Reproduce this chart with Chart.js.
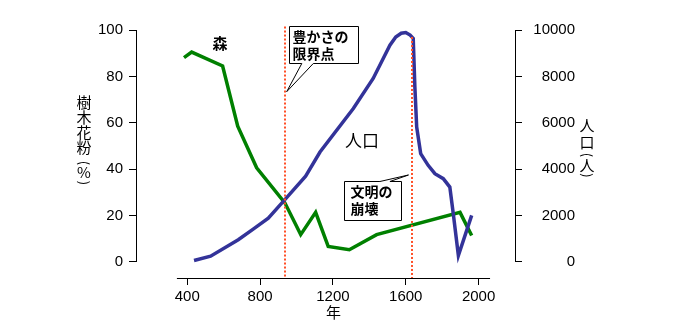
<!DOCTYPE html>
<html lang="ja">
<head>
<meta charset="UTF-8">
<title>森と人口</title>
<style>
  body { margin: 0; background: #fff; overflow: hidden; }
  .wrap { width: 700px; height: 330px; position: relative; }
</style>
</head>
<body>
<div class="wrap"><canvas id="chart"></canvas></div>
<script src="https://cdn.jsdelivr.net/npm/chart.js"></script>
<script>
// 樹木花粉 (%)
const forestYears  = [382, 424, 594, 677, 781, 936, 1023, 1105, 1174, 1290, 1440, 1898, 1962];
const forestPollen = [88.1, 90.5, 84.5, 58.5, 40.6, 25.5, 11.8, 21.4, 6.7, 5.3, 11.8, 21.4, 11.4];

// 人口 (人)
const popYears   = [437, 528, 680, 762, 845, 936, 1050, 1129, 1312, 1421, 1513, 1545, 1575, 1600, 1624, 1641,
                    1650, 1660, 1682, 1723, 1760, 1806, 1842, 1861, 1889, 1962];
const population = [65, 250, 960, 1420, 1890, 2690, 3700, 4740, 6615, 7910, 9348, 9700, 9860, 9890, 9780, 9637,
                    7547, 5820, 4672, 4167, 3808, 3592, 3230, 2081, 281, 2008];

const xTicks     = [400, 800, 1200, 1600, 2000];
const leftTicks  = [0, 20, 40, 60, 80, 100];
const rightTicks = [0, 2000, 4000, 6000, 8000, 10000];

// 豊かさの限界点 / 文明の崩壊
const markerYears = [936, 1635];
const markerTops  = [101.5, 97];

const tickFont = { family: "'Liberation Sans', Arial, sans-serif", size: 15 };
const jpFont = "'Noto Sans CJK JP', sans-serif";
const plain = v => String(v);

function align(p) {
    return Math.round(p - 0.5) + 0.5;
}

function callout(ctx, lines, box, base, tip, pad) {
    // box / base / tip already in pixels
    ctx.beginPath();
    ctx.moveTo(box.l, box.t);
    if (base.side === 'top') {
        ctx.lineTo(base.a, box.t);
        ctx.lineTo(tip.x, tip.y);
        ctx.lineTo(base.b, box.t);
    }
    ctx.lineTo(box.r, box.t);
    ctx.lineTo(box.r, box.b);
    if (base.side === 'bottom') {
        ctx.lineTo(base.b, box.b);
        ctx.lineTo(tip.x, tip.y);
        ctx.lineTo(base.a, box.b);
    }
    ctx.lineTo(box.l, box.b);
    ctx.closePath();
    ctx.fillStyle = '#fff';
    ctx.fill();
    ctx.strokeStyle = '#000';
    ctx.lineWidth = 1;
    ctx.stroke();

    ctx.fillStyle = '#000';
    ctx.font = 'bold 14px ' + jpFont;
    ctx.textAlign = 'left';
    ctx.textBaseline = 'middle';
    lines.forEach((t, i) => ctx.fillText(t, box.l + pad, box.t + 10 + i * 17));
}

const overlay = {
    id: 'overlay',
    afterDatasetsDraw(chart) {
        const ctx = chart.ctx;
        const x = chart.scales.x;
        const y = chart.scales.y;
        const y1 = chart.scales.y1;
        const area = chart.chartArea;
        const px = v => x.getPixelForValue(v);
        const py = v => y.getPixelForValue(v);

        ctx.save();

        // axis lines (detached, R style)
        ctx.strokeStyle = '#000';
        ctx.lineWidth = 1;
        ctx.beginPath();
        const lx = align(area.left);
        ctx.moveTo(lx, py(0));
        ctx.lineTo(lx, py(100));
        const rx = align(area.right);
        ctx.moveTo(rx, y1.getPixelForValue(0));
        ctx.lineTo(rx, y1.getPixelForValue(10000));
        const by = align(area.bottom);
        ctx.moveTo(px(343), by);
        ctx.lineTo(px(2063), by);
        ctx.stroke();

        // red dotted markers
        ctx.strokeStyle = '#ff5028';
        ctx.lineWidth = 2;
        ctx.setLineDash([2, 2]);
        markerYears.forEach((yr, i) => {
            const mx = Math.round(px(yr));
            ctx.beginPath();
            ctx.moveTo(mx, py(markerTops[i]));
            ctx.lineTo(mx, area.bottom);
            ctx.stroke();
        });
        ctx.setLineDash([]);

        // callouts
        callout(ctx, ['豊かさの', '限界点'],
            { l: align(px(964)), r: align(px(1338)), t: align(py(101.7)), b: align(py(85.6)) },
            { side: 'bottom', a: px(1029), b: px(1092) },
            { x: px(946), y: py(73.4) }, 3);
        callout(ctx, ['文明の', '崩壊'],
            { l: align(px(1266)), r: align(px(1578)), t: align(py(34.6)), b: align(py(18.1)) },
            { side: 'top', a: px(1458), b: px(1513) },
            { x: px(1615), y: py(37.5) }, 6);

        // series labels
        ctx.fillStyle = '#000';
        ctx.textAlign = 'center';
        ctx.textBaseline = 'middle';
        ctx.font = 'bold 15px ' + jpFont;
        ctx.fillText('森', px(580), py(94.4));
        ctx.font = '17px ' + jpFont;
        ctx.fillText('人口', px(1359), py(52.2));

        // axis titles
        ctx.font = '15px ' + jpFont;
        ctx.fillText('年', (px(343) + px(2063)) / 2, 312);

        const vertical = (chars, cx) => {
            chars.forEach(([ch, cy, rot]) => {
                if (rot) {
                    ctx.save();
                    ctx.translate(cx, cy);
                    ctx.rotate(Math.PI / 2);
                    ctx.font = '13px ' + jpFont;
                    ctx.fillText(ch, 0, 0);
                    ctx.restore();
                } else {
                    ctx.font = '15px ' + jpFont;
                    ctx.fillText(ch, cx, cy);
                }
            });
        };
        vertical([['樹', 102.5], ['木', 117.5], ['花', 132.5], ['粉', 147.5],
                  ['(', 163, true], ['%', 172.5], [')', 183, true]], 84);
        vertical([['人', 125.5], ['口', 142], ['(', 155, true], ['人', 165.5], [')', 175.5, true]], 587);

        ctx.restore();
    }
};

new Chart(document.getElementById('chart'), {
    type: 'line',
    data: {
        datasets: [{
            label: '人口',
            data: popYears.map((yr, i) => ({ x: yr, y: population[i] })),
            yAxisID: 'y1',
            borderColor: '#333399',
            borderWidth: 3.5,
            pointRadius: 0,
            tension: 0,
            fill: false
        }, {
            label: '森',
            data: forestYears.map((yr, i) => ({ x: yr, y: forestPollen[i] })),
            yAxisID: 'y',
            borderColor: '#008000',
            borderWidth: 3.5,
            pointRadius: 0,
            tension: 0,
            fill: false
        }]
    },
    options: {
        responsive: true,
        maintainAspectRatio: false,
        animation: false,
        layout: { padding: { left: 0, right: 125, top: 30, bottom: 0 } },
        plugins: {
            legend: { display: false },
            tooltip: { enabled: false }
        },
        scales: {
            x: {
                type: 'linear',
                min: 118.3,
                max: 2200,
                border: { display: false },
                grid: { drawOnChartArea: false, drawTicks: true, tickLength: 7, color: '#000' },
                ticks: { font: tickFont, color: '#000', padding: 3, maxRotation: 0, callback: plain },
                afterBuildTicks: s => { s.ticks = xTicks.map(v => ({ value: v })); },
                afterFit: s => { s.height = 52; }
            },
            y: {
                position: 'left',
                min: -6.9,
                max: 100,
                border: { display: false },
                grid: { drawOnChartArea: false, drawTicks: true, tickLength: 7, color: '#000' },
                ticks: { font: tickFont, color: '#000', padding: 6, callback: plain },
                afterBuildTicks: s => { s.ticks = leftTicks.map(v => ({ value: v })); },
                afterFit: s => { s.width = 136; }
            },
            y1: {
                position: 'right',
                min: -690,
                max: 10000,
                border: { display: false },
                grid: { drawOnChartArea: false, drawTicks: true, tickLength: 7, color: '#000' },
                ticks: { font: tickFont, color: '#000', padding: 3, crossAlign: 'far', callback: plain },
                afterBuildTicks: s => { s.ticks = rightTicks.map(v => ({ value: v })); },
                afterFit: s => { s.width = 60; }
            }
        }
    },
    plugins: [overlay]
});
</script>
</body>
</html>
